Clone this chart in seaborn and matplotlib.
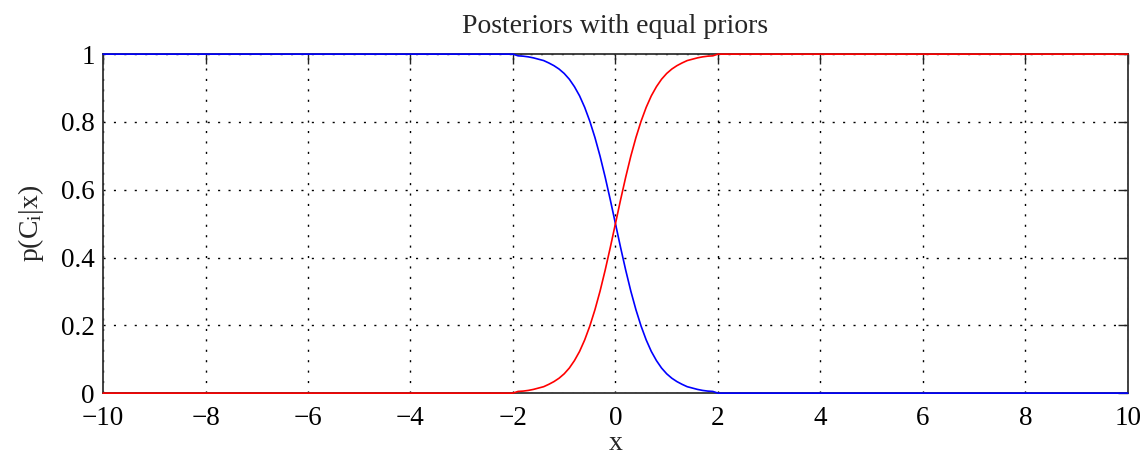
import matplotlib
matplotlib.use("Agg")
import matplotlib.pyplot as plt
import seaborn as sns

# Data
x_vals = [-10.0, -2.0, -1.9, -1.8, -1.7, -1.6, -1.5, -1.4, -1.3, -1.2, -1.1, -1.0,
          -0.9, -0.8, -0.7, -0.6, -0.5, -0.4, -0.3, -0.2, -0.1, 0.0,
          0.1, 0.2, 0.3, 0.4, 0.5, 0.6, 0.7, 0.8, 0.9, 1.0,
          1.1, 1.2, 1.3, 1.4, 1.5, 1.6, 1.7, 1.8, 1.9, 2.0, 10.0]
blue_vals = [1.0, 1.0, 0.995, 0.994, 0.992, 0.989, 0.985, 0.981, 0.974, 0.966, 0.956, 0.943,
             0.926, 0.904, 0.877, 0.843, 0.802, 0.754, 0.699, 0.637, 0.570, 0.5,
             0.430, 0.363, 0.301, 0.246, 0.198, 0.157, 0.123, 0.096, 0.074, 0.057,
             0.044, 0.034, 0.026, 0.019, 0.015, 0.011, 0.008, 0.006, 0.005, 0.0, 0.0]
red_vals = [0.0, 0.0, 0.005, 0.006, 0.008, 0.011, 0.015, 0.019, 0.026, 0.034, 0.044, 0.057,
            0.074, 0.096, 0.123, 0.157, 0.198, 0.246, 0.301, 0.363, 0.430, 0.5,
            0.570, 0.637, 0.699, 0.754, 0.802, 0.843, 0.877, 0.904, 0.926, 0.943,
            0.956, 0.966, 0.974, 0.981, 0.985, 0.989, 0.992, 0.994, 0.995, 1.0, 1.0]
x_ticks = [-10, -8, -6, -4, -2, 0, 2, 4, 6, 8, 10]
y_ticks = [0, 0.2, 0.4, 0.6, 0.8, 1]
y_tick_labels = ["0", "0.2", "0.4", "0.6", "0.8", "1"]

sns.set_style("white")
plt.rcParams['font.family'] = ['Liberation Serif', 'DejaVu Serif']
plt.rcParams['mathtext.fontset'] = 'stix'

fig = plt.figure(figsize=(11.45, 4.55), dpi=100)
ax = fig.add_axes([0.09, 0.136, 0.895, 0.745])

sns.lineplot(x=x_vals, y=blue_vals, color=(0, 0, 1), linewidth=1.2, ax=ax,
             estimator=None, sort=False, zorder=3, clip_on=False)
sns.lineplot(x=x_vals, y=red_vals, color=(1, 0, 0), linewidth=1.2, ax=ax,
             estimator=None, sort=False, zorder=3, clip_on=False)

ax.set_xlim(-10, 10)
ax.set_ylim(0, 1)
ax.set_xticks(x_ticks)
ax.set_yticks(y_ticks)
ax.set_yticklabels(y_tick_labels)
ax.tick_params(direction='in', top=True, right=True, length=7.5, width=1,
               labelsize=19.5, color='#222222', labelcolor='black')
ax.tick_params(axis='x', pad=9)
ax.tick_params(axis='y', pad=6)
ax.grid(True, linestyle=(0, (1.5, 6)), color='black', linewidth=1.0)
for s in ax.spines.values():
    s.set_color('#333333')
    s.set_linewidth(1.3)
    s.set_visible(True)

ax.set_title("Posteriors with equal priors", fontsize=20, pad=15)
ax.set_xlabel("x", fontsize=20, labelpad=0)
ax.set_ylabel(r"$\mathregular{p(C_i|x)}$", fontsize=20, labelpad=11)

fig.savefig("out.png", dpi=100, facecolor='white')
